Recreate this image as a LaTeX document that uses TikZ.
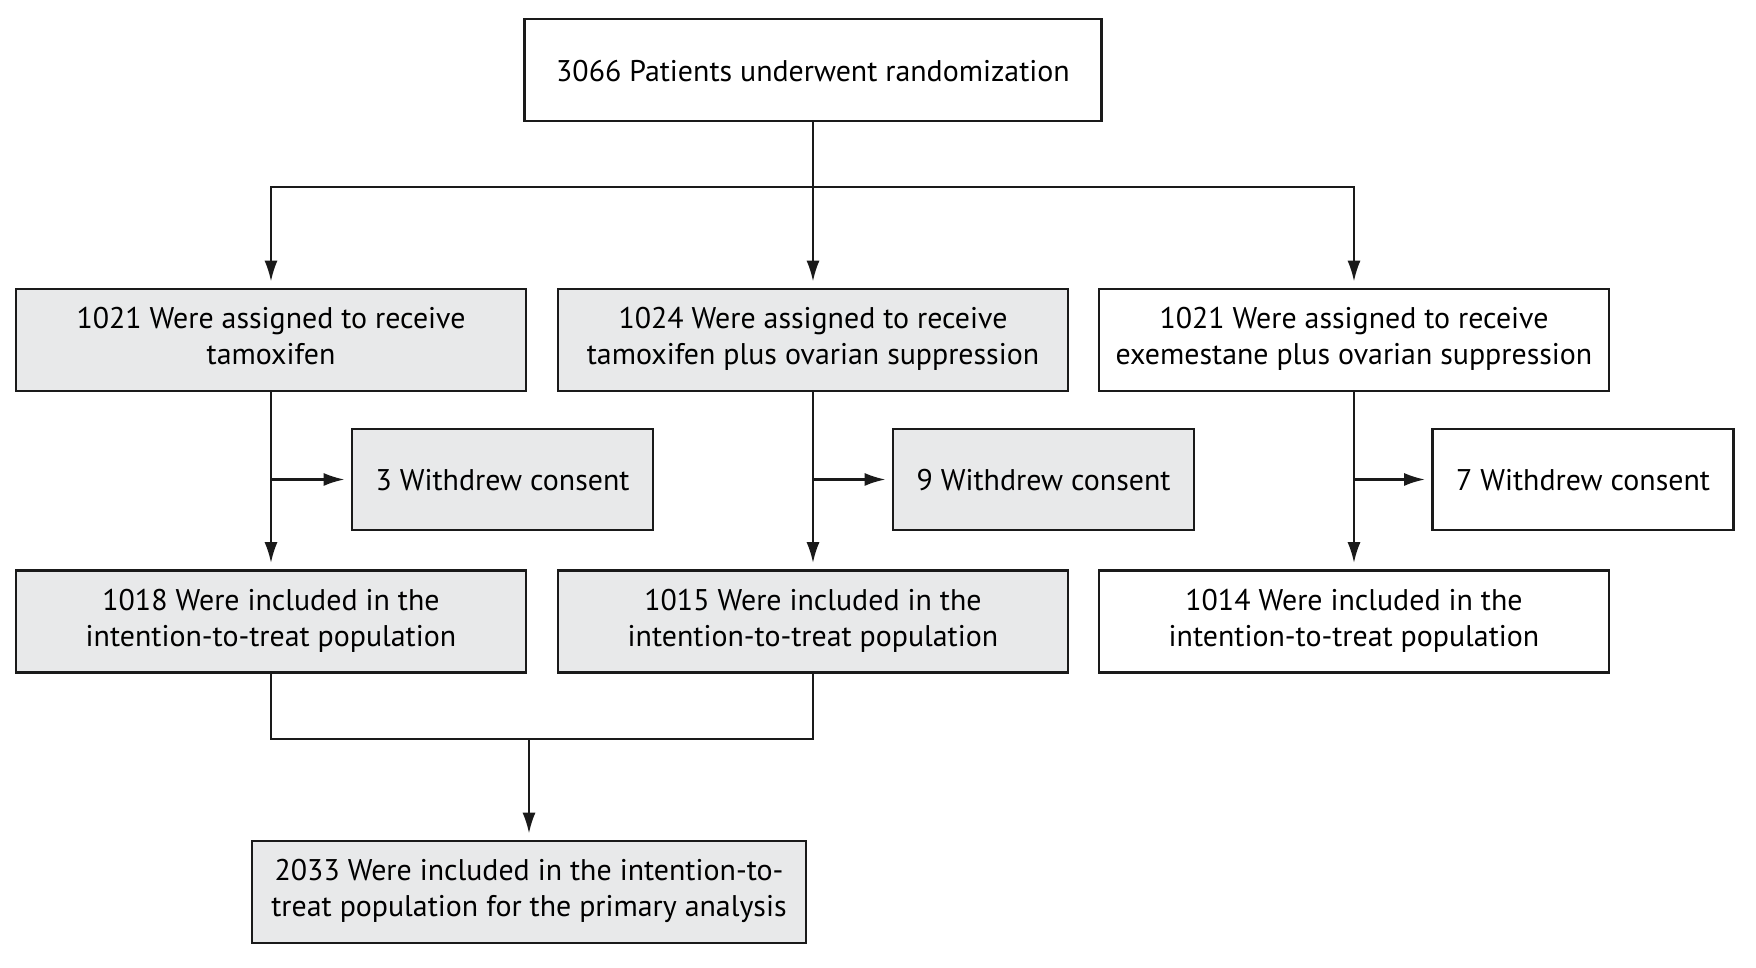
\documentclass[tikz,border=0pt]{standalone}
\usepackage{fontspec}
\setmainfont{PT Sans}
\usepackage{tikz}
\usetikzlibrary{arrows.meta,positioning,calc}
\definecolor{BoxGray}{HTML}{E8E9EA}
\definecolor{LineBlack}{HTML}{1A1A1A}
\newcommand\boxstrut{\rule[-2.2pt]{0pt}{10.7pt}}

\begin{document}
\begin{tikzpicture}[x=0.01cm,y=-0.01cm,
    every node/.style={font=\fontsize{8.5pt}{10.2pt}\selectfont},
    box/.style={draw=LineBlack,line width=0.7pt,fill=white,align=center,
      inner sep=0pt,minimum width=5.10cm,minimum height=1.02cm,
      execute at begin node=\boxstrut,execute at end node=\boxstrut},
    shaded/.style={box,fill=BoxGray},
    small/.style={minimum width=3.01cm,minimum height=1.01cm},
    arr/.style={draw=LineBlack,line width=0.7pt,
      -{Latex[length=0.21cm,width=0.13cm]},shorten >=0.06cm}]
      \useasboundingbox (0,0) rectangle (1756,968);

      \node[box,minimum width=5.77cm] (rand) at (813,70) {3066 Patients underwent randomization};

      % assignment
      \node[shaded] (armTam) at (271,340) {1021 Were assigned to receive\\tamoxifen};
      \node[shaded] (armTamOS) at (813,340) {1024 Were assigned to receive\\tamoxifen plus ovarian suppression};
      \node[box] (armExeOS) at (1354,340) {1021 Were assigned to receive\\exemestane plus ovarian suppression};

      \node[shaded,small] (wdTam) at (502.5,479.5) {3 Withdrew consent};
      \node[shaded,small] (wdTamOS) at (1043.5,479.5) {9 Withdrew consent};
      \node[box,small] (wdExeOS) at (1583,479.5) {7 Withdrew consent};

      % intention-to-treat
      \node[shaded] (ittTam) at (271,621.5) {1018 Were included in the\\intention-to-treat population};
      \node[shaded] (ittTamOS) at (813,621.5) {1015 Were included in the\\intention-to-treat population};
      \node[box] (ittExeOS) at (1354,621.5) {1014 Were included in the\\intention-to-treat population};

      \node[shaded,minimum width=5.54cm] (pooled) at (529,892) {2033 Were included in the intention-to-\\treat population for the primary analysis};

      \coordinate (split) at (813,187);
      \coordinate (merge) at (529,739);

      \draw[arr] (rand.south) -- (armTamOS.north);
      \draw[arr] (split) -| (armTam.north);
      \draw[arr] (split) -| (armExeOS.north);

      \draw[arr] (armTam.south) -- (ittTam.north);
      \draw[arr] (armTamOS.south) -- (ittTamOS.north);
      \draw[arr] (armExeOS.south) -- (ittExeOS.north);
      \draw[arr] (armTam.south |- wdTam.west) -- (wdTam.west);
      \draw[arr] (armTamOS.south |- wdTamOS.west) -- (wdTamOS.west);
      \draw[arr] (armExeOS.south |- wdExeOS.west) -- (wdExeOS.west);

      \draw[LineBlack,line width=0.7pt] (ittTam.south) |- (merge) -| (ittTamOS.south);
      \draw[arr] (merge) -- (pooled.north);
    \end{tikzpicture}
\end{document}
